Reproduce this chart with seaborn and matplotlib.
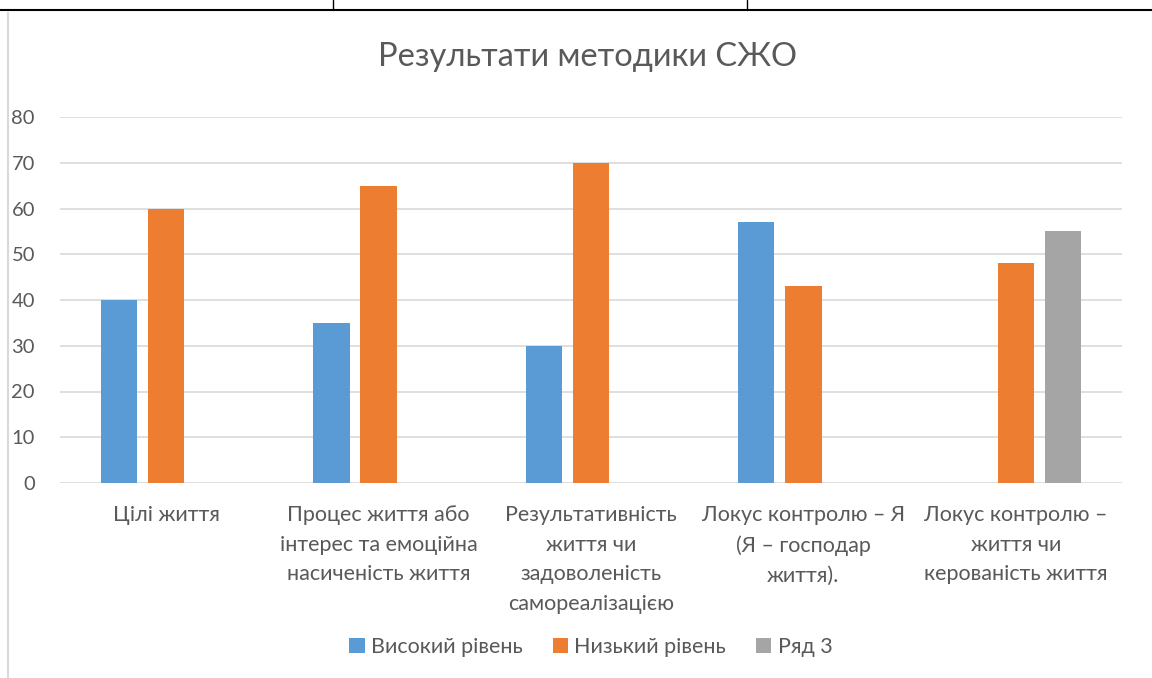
import numpy as np
import pandas as pd
import seaborn as sns
import matplotlib.pyplot as plt
from matplotlib.lines import Line2D
from matplotlib.patches import Patch

categories = [
    "Цілі життя",
    "Процес життя або\nінтерес та емоційна\nнасиченість життя",
    "Результативність\nжиття чи\nзадоволеність\nсамореалізацією",
    "Локус контролю – Я\n(Я – господар\nжиття).",
    "Локус контролю –\nжиття чи\nкерованість життя",
]
series = ["Високий рівень", "Низький рівень", "Ряд 3"]
high = [40, 35, 30, 57, np.nan]
low = [60, 65, 70, 43, 48]
row3 = [np.nan, np.nan, np.nan, np.nan, 55]
colors = ["#5B9BD5", "#ED7D31", "#A5A5A5"]

df = pd.DataFrame({"cat": categories, series[0]: high, series[1]: low, series[2]: row3})
long = df.melt("cat", var_name="series", value_name="value")

sns.set_style("white")
plt.rcParams["font.family"] = ["Lato", "DejaVu Sans"]

fig = plt.figure(figsize=(11.52, 6.78), dpi=100)
ax = fig.add_axes([60 / 1152, 1 - 483 / 678, 1062 / 1152, 366 / 678])

sns.barplot(data=long, x="cat", y="value", hue="series", hue_order=series,
            order=categories, palette=colors, width=0.666, gap=0.23,
            saturation=1, ax=ax, legend=False, zorder=3, linewidth=0)

ax.set_ylim(0, 80)
ax.set_xlim(-0.5, 4.5)
ax.set_yticks(range(0, 81, 10))
ax.yaxis.grid(True, color="#D9D9D9", linewidth=1.2, zorder=0)
ax.set_axisbelow(True)
for s in ax.spines.values():
    s.set_visible(False)
ax.set_xlabel("")
ax.set_ylabel("")
ax.tick_params(axis="y", length=0, pad=18, labelsize=14.5, labelcolor="#595959")
ax.tick_params(axis="x", length=0, pad=16, labelsize=15.5, labelcolor="#595959")
ax.set_xticks(range(len(categories)))
ax.set_xticklabels(categories, linespacing=1.6, va="top")

fig.text(587 / 1152, 1 - 57 / 678, "Результати методики СЖО", ha="center", va="center",
         fontsize=23.5, color="#595959")

handles = [Patch(facecolor=c, edgecolor="none") for c in colors]
fig.legend(handles, series, loc="center", bbox_to_anchor=(591 / 1152, 1 - 647 / 678),
           ncol=3, frameon=False, fontsize=15.5, handlelength=0.7, handleheight=0.7,
           handletextpad=0.3, columnspacing=1.4, labelcolor="#595959")

# document table borders around the chart
fig.add_artist(Line2D([0, 1], [1 - 10 / 678] * 2, color="black", linewidth=1.5))
fig.add_artist(Line2D([333 / 1152] * 2, [1 - 10 / 678, 1], color="black", linewidth=1))
fig.add_artist(Line2D([747 / 1152] * 2, [1 - 10 / 678, 1], color="black", linewidth=1))
fig.add_artist(Line2D([8 / 1152] * 2, [0, 1 - 13 / 678], color="#D9D9D9", linewidth=1.5))

fig.savefig("out.png", dpi=100)
